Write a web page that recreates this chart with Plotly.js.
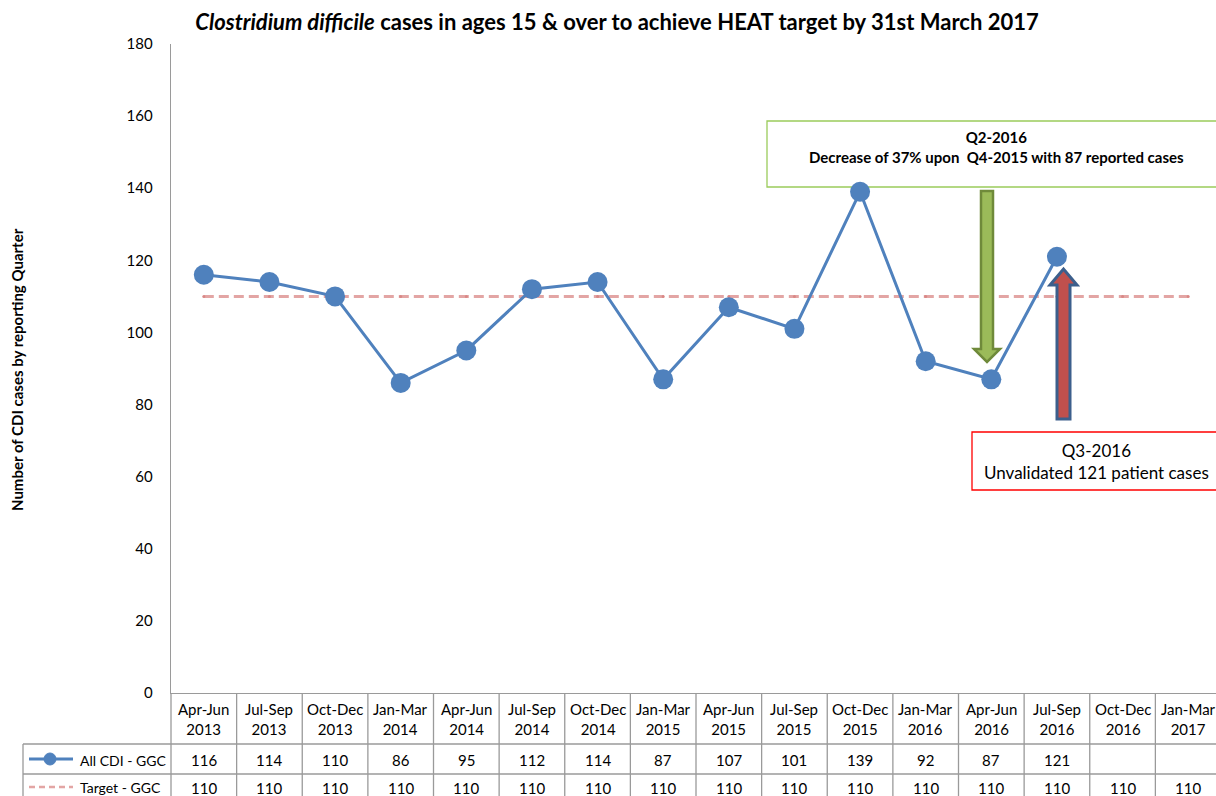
<!DOCTYPE html>
<html>
<head>
<meta charset="utf-8">
<script src="https://cdn.plot.ly/plotly-3.0.1.min.js"></script>
<style>html,body{margin:0;padding:0;overflow:hidden;background:#fff}</style>
</head>
<body>
<div id="chart" style="width:1221px;height:796px"></div>
<script>
const quartersTop = ["Apr-Jun","Jul-Sep","Oct-Dec","Jan-Mar","Apr-Jun","Jul-Sep","Oct-Dec","Jan-Mar","Apr-Jun","Jul-Sep","Oct-Dec","Jan-Mar","Apr-Jun","Jul-Sep","Oct-Dec","Jan-Mar"];
const quartersYear = ["2013","2013","2013","2014","2014","2014","2014","2015","2015","2015","2015","2016","2016","2016","2016","2017"];
const allCDI = [116,114,110,86,95,112,114,87,107,101,139,92,87,121,null,null];
const target = [110,110,110,110,110,110,110,110,110,110,110,110,110,110,110,110];
const yTicks = [0,20,40,60,80,100,120,140,160,180];

const categories = quartersTop.map((q,i)=>q+" "+quartersYear[i]);
const idx = categories.map((_,i)=>i);

// pixel geometry helpers
const W=1221, H=796, L=171, T=44, PW=W-L, PH=649;
const px = x => (x-L)/PW;
const py = y => (T+PH-y)/PH;
const FONT = "Lato, 'Open Sans', sans-serif";
const GRID = "#9a9a9a";

const traces = [
  {x: idx, y: target, type:"scatter", mode:"lines+markers", name:"Target - GGC",
   line:{color:"#E3A5A4", width:3, dash:"10px,5px"}, marker:{size:3, color:"#D98886"}, hoverinfo:"skip"},
  {x: idx, y: allCDI, type:"scatter", mode:"lines+markers", name:"All CDI - GGC",
   line:{color:"#4F81BD", width:3}, marker:{size:20, color:"#4F81BD"}, connectgaps:false}
];

const shapes = [];
const annotations = [];
function txt(o){ annotations.push(Object.assign({showarrow:false, xanchor:"center", yanchor:"middle", align:"center"}, o)); }
const cellLine = {color:GRID, width:1.3};
// table lines
shapes.push({type:"line", xref:"paper", yref:"paper", x0:px(23), x1:px(W), y0:py(744), y1:py(744), line:cellLine});
shapes.push({type:"line", xref:"paper", yref:"paper", x0:px(23), x1:px(W), y0:py(774), y1:py(774), line:cellLine});
shapes.push({type:"line", xref:"paper", yref:"paper", x0:px(23), x1:px(23), y0:py(744), y1:py(800), line:cellLine});
shapes.push({type:"line", xref:"paper", yref:"paper", x0:0, x1:0, y0:py(693), y1:py(800), line:cellLine});
idx.forEach(i=>{
  shapes.push({type:"line", xref:"x", yref:"paper", x0:i+0.5, x1:i+0.5, y0:py(693), y1:py(800), line:cellLine});
});
const tf = {family:FONT, size:15, color:"#000"};
const lf = {family:FONT, size:14, color:"#000"};
idx.forEach(i=>{
  txt({xref:"x", yref:"paper", x:i, y:py(719), text:quartersTop[i]+"<br>"+quartersYear[i], font:tf});
  if (allCDI[i]!==null) txt({xref:"x", yref:"paper", x:i, y:py(760), text:String(allCDI[i]), font:tf});
  if (target[i]!==null) txt({xref:"x", yref:"paper", x:i, y:py(788), text:String(target[i]), font:tf});
});
// legend cells
shapes.push({type:"line", xref:"paper", yref:"paper", x0:px(29), x1:px(73), y0:py(759), y1:py(759), line:{color:"#4F81BD", width:3}});
shapes.push({type:"circle", xref:"paper", yref:"paper", x0:px(44), x1:px(56), y0:py(753), y1:py(765), fillcolor:"#4F81BD", line:{color:"#4F81BD", width:1}});
shapes.push({type:"line", xref:"paper", yref:"paper", x0:px(29), x1:px(73), y0:py(787), y1:py(787), line:{color:"#E3A5A4", width:2.5, dash:"6px,4px"}});
txt({xref:"paper", yref:"paper", x:px(78), y:py(760), xanchor:"left", text:"All CDI - GGC", font:lf});
txt({xref:"paper", yref:"paper", x:px(78), y:py(788), xanchor:"left", text:"Target - GGC", font:lf});

// callout boxes
shapes.push({type:"rect", xref:"paper", yref:"paper", x0:px(767), x1:px(1226), y0:py(121), y1:py(187), line:{color:"#9BCB5B", width:1.3}, layer:"below"});
txt({xref:"paper", yref:"paper", x:px(996), y:py(147), text:"<b>Q2-2016</b><br><b>Decrease of 37% upon  Q4-2015 with 87 reported cases</b>", font:{family:FONT, size:15, color:"#000"}});
shapes.push({type:"rect", xref:"paper", yref:"paper", x0:px(972), x1:px(1226), y0:py(432), y1:py(490), line:{color:"#FF0000", width:1.3}, fillcolor:"#fff", layer:"below"});
txt({xref:"paper", yref:"paper", x:px(1096), y:py(461), text:"Q3-2016<br>Unvalidated 121 patient cases", font:{family:FONT, size:17, color:"#000"}});

// block arrows
function pth(pts){ return "M "+pts.map(p=>px(p[0])+","+py(p[1])).join(" L ")+" Z"; }
shapes.push({type:"path", xref:"paper", yref:"paper", path:pth([[981,191],[993,191],[993,349],[1000,349],[987,362],[974,349],[981,349]]), fillcolor:"#9BBB59", line:{color:"#6F8A3A", width:2.5}});
shapes.push({type:"path", xref:"paper", yref:"paper", path:pth([[1057,419],[1070,419],[1070,285],[1077,285],[1063.5,269],[1050,285],[1057,285]]), fillcolor:"#C0504D", line:{color:"#3C5F8C", width:3}});

// y-axis title
txt({xref:"paper", yref:"paper", x:px(17), y:py(370), text:"<b>Number of CDI cases by reporting Quarter</b>", textangle:-90, font:{family:FONT, size:15, color:"#000"}});

const layout = {
  width:W, height:H,
  margin:{l:L, r:0, t:T, b:H-T-PH, pad:0},
  paper_bgcolor:"#fff", plot_bgcolor:"#fff",
  showlegend:false, hovermode:false,
  title:{text:"<b><i>Clostridium difficile</i> cases in ages 15 &amp; over to achieve HEAT target by 31st March 2017</b>",
    font:{family:FONT, size:22, color:"#000"}, x:617/W, xanchor:"center", y:1-22/H, yanchor:"middle"},
  xaxis:{range:[-0.5,15.5], showticklabels:false, ticks:"", showgrid:false, zeroline:false, showline:true, linecolor:GRID, linewidth:1.3, fixedrange:true},
  yaxis:{range:[0,180], tickvals:yTicks, ticktext:yTicks.map(String), ticks:"", ticklabelstandoff:14, showgrid:false, zeroline:false, showline:true, linecolor:GRID, linewidth:1.3,
    tickfont:{family:FONT, size:15, color:"#000"}, fixedrange:true},
  shapes:shapes, annotations:annotations
};
Plotly.newPlot("chart", traces, layout, {displayModeBar:false, staticPlot:true});
</script>
</body>
</html>
